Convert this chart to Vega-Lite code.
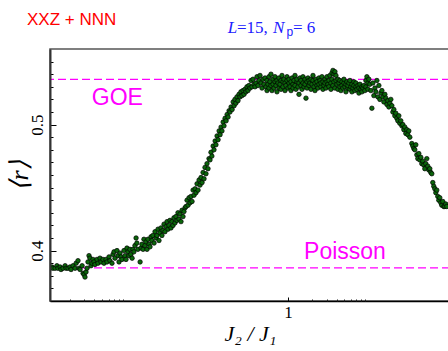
{
"$schema": "https://vega.github.io/schema/vega-lite/v6.json",
"width": 400, "height": 252,
"autosize": "none",
"padding": {"left": 50, "top": 49, "right": 0, "bottom": 50},
"background": "white",
"config": {"view": {"stroke": "#555", "strokeWidth": 1.5}},
"resolve": {"axis": {"x": "independent", "y": "independent"}},
"layer": [
{"data": {"values": [{"g": "GOE"}]},
 "mark": {"type": "rule", "color": "#ff00ff", "strokeWidth": 1.3, "strokeDash": [8, 4]},
 "encoding": {"y": {"datum": 0.5359, "type": "quantitative", "scale": {"domain": [0.36, 0.56]},
   "axis": {"orient": "left", "zindex": 1, "offset": -3, "values": [0.36,0.37,0.38,0.39,0.41,0.42,0.43,0.44,0.45,0.46,0.47,0.48,0.49,0.51,0.52,0.53,0.54,0.55], "labels": false, "domain": false, "grid": false, "title": null, "ticks": true, "tickSize": 3, "tickColor": "#000", "tickWidth": 1}}}},
{"data": {"values": [{"g": "Poisson"}]},
 "mark": {"type": "rule", "color": "#ff00ff", "strokeWidth": 1.3, "strokeDash": [8, 4]},
 "encoding": {"y": {"datum": 0.3863, "type": "quantitative", "scale": {"domain": [0.36, 0.56]},
   "axis": {"orient": "left", "zindex": 1, "offset": -6, "values": [0.4, 0.5], "labels": false, "domain": false, "grid": false, "title": null, "ticks": true, "tickSize": 6, "tickColor": "#000", "tickWidth": 1}}}},
{"data": {"values": [
{"x":0.00112,"r":0.386},{"x":0.00119,"r":0.387},{"x":0.00122,"r":0.386},{"x":0.00130,"r":0.386},{"x":0.00137,"r":0.388},{"x":0.00141,"r":0.386},{"x":0.00150,"r":0.387},{"x":0.00154,"r":0.385},{"x":0.00163,"r":0.386},{"x":0.00173,"r":0.388},{"x":0.00178,"r":0.386},{"x":0.00188,"r":0.386},{"x":0.00199,"r":0.387},{"x":0.00205,"r":0.385},{"x":0.00217,"r":0.388},{"x":0.00230,"r":0.386},{"x":0.00237,"r":0.390},{"x":0.00250,"r":0.392},{"x":0.00258,"r":0.386},{"x":0.00265,"r":0.385},
{"x":0.00281,"r":0.388},{"x":0.00289,"r":0.382},{"x":0.00297,"r":0.381},{"x":0.00305,"r":0.379},{"x":0.00314,"r":0.383},{"x":0.00323,"r":0.386},{"x":0.00332,"r":0.391},{"x":0.00342,"r":0.396},{"x":0.00352,"r":0.394},{"x":0.00362,"r":0.388},{"x":0.00373,"r":0.390},{"x":0.00383,"r":0.393},{"x":0.00395,"r":0.391},{"x":0.00406,"r":0.389},
{"x":0.00430,"r":0.393},{"x":0.00442,"r":0.390},{"x":0.00468,"r":0.394},{"x":0.00482,"r":0.391},{"x":0.00510,"r":0.393},{"x":0.00525,"r":0.390},{"x":0.00556,"r":0.393},{"x":0.00572,"r":0.391},{"x":0.00605,"r":0.395},{"x":0.00622,"r":0.392},{"x":0.00659,"r":0.390},{"x":0.00678,"r":0.397},{"x":0.00698,"r":0.399},{"x":0.00718,"r":0.394},{"x":0.00760,"r":0.400},{"x":0.00782,"r":0.396},{"x":0.00805,"r":0.391},{"x":0.00828,"r":0.398},{"x":0.00852,"r":0.395},{"x":0.00877,"r":0.393},{"x":0.00928,"r":0.400},{"x":0.00955,"r":0.396},{"x":0.00983,"r":0.393},{"x":0.0101,"r":0.402},{"x":0.0104,"r":0.399},{"x":0.0107,"r":0.396},{"x":0.0110,"r":0.401},{"x":0.0113,"r":0.397},{"x":0.0117,"r":0.394},{"x":0.0120,"r":0.401},{"x":0.0123,"r":0.399},{"x":0.0127,"r":0.404},{"x":0.0131,"r":0.410},{"x":0.0134,"r":0.406},{"x":0.0138,"r":0.401},{"x":0.0147,"r":0.391},
{"x":0.0151,"r":0.402},{"x":0.0155,"r":0.405},{"x":0.0160,"r":0.401},{"x":0.0164,"r":0.409},{"x":0.0169,"r":0.404},{"x":0.0174,"r":0.407},{"x":0.0179,"r":0.401},{"x":0.0184,"r":0.409},{"x":0.0190,"r":0.405},{"x":0.0195,"r":0.403},{"x":0.0201,"r":0.411},{"x":0.0206,"r":0.408},{"x":0.0212,"r":0.412},{"x":0.0219,"r":0.406},{"x":0.0225,"r":0.415},{"x":0.0232,"r":0.410},{"x":0.0238,"r":0.412},{"x":0.0245,"r":0.417},{"x":0.0252,"r":0.408},{"x":0.0259,"r":0.414},{"x":0.0267,"r":0.418},{"x":0.0274,"r":0.412},{"x":0.0282,"r":0.416},{"x":0.0291,"r":0.421},{"x":0.0299,"r":0.415},{"x":0.0308,"r":0.419},{"x":0.0317,"r":0.423},{"x":0.0326,"r":0.417},{"x":0.0335,"r":0.420},{"x":0.0345,"r":0.424},{"x":0.0355,"r":0.418},{"x":0.0365,"r":0.423},{"x":0.0376,"r":0.420},{"x":0.0386,"r":0.426},{"x":0.0398,"r":0.422},{"x":0.0409,"r":0.427},{"x":0.0421,"r":0.424},{"x":0.0433,"r":0.430},{"x":0.0446,"r":0.425},{"x":0.0459,"r":0.429},{"x":0.0472,"r":0.423},{"x":0.0486,"r":0.432},{"x":0.0500,"r":0.427},{"x":0.0514,"r":0.431},{"x":0.0530,"r":0.434},
{"x":0.0545,"r":0.435},{"x":0.0561,"r":0.440},{"x":0.0577,"r":0.436},{"x":0.0594,"r":0.442},{"x":0.0611,"r":0.438},{"x":0.0629,"r":0.443},{"x":0.0647,"r":0.439},{"x":0.0666,"r":0.448},{"x":0.0685,"r":0.444},{"x":0.0705,"r":0.449},{"x":0.0725,"r":0.446},{"x":0.0746,"r":0.453},{"x":0.0768,"r":0.448},{"x":0.0790,"r":0.456},{"x":0.0813,"r":0.452},{"x":0.0836,"r":0.458},{"x":0.0861,"r":0.454},{"x":0.0886,"r":0.462},{"x":0.0911,"r":0.457},{"x":0.0936,"r":0.466},{"x":0.0963,"r":0.461},{"x":0.0991,"r":0.469},{"x":0.102,"r":0.465},{"x":0.105,"r":0.473},{"x":0.108,"r":0.472},{"x":0.111,"r":0.478},{"x":0.114,"r":0.475},{"x":0.118,"r":0.483},{"x":0.121,"r":0.480},{"x":0.125,"r":0.487},{"x":0.128,"r":0.484},{"x":0.132,"r":0.491},{"x":0.136,"r":0.488},{"x":0.140,"r":0.495},{"x":0.144,"r":0.492},{"x":0.148,"r":0.498},{"x":0.152,"r":0.495},{"x":0.157,"r":0.502},{"x":0.161,"r":0.499},{"x":0.166,"r":0.505},{"x":0.171,"r":0.503},{"x":0.176,"r":0.508},{"x":0.181,"r":0.506},{"x":0.186,"r":0.511},{"x":0.191,"r":0.510},{"x":0.197,"r":0.514},{"x":0.203,"r":0.512},{"x":0.209,"r":0.518},{"x":0.215,"r":0.515},{"x":0.220,"r":0.520},{"x":0.226,"r":0.517},{"x":0.233,"r":0.522},{"x":0.240,"r":0.519},{"x":0.247,"r":0.524},{"x":0.254,"r":0.522},{"x":0.261,"r":0.526},{"x":0.269,"r":0.523},{"x":0.277,"r":0.527},{"x":0.285,"r":0.524},{"x":0.293,"r":0.528},{"x":0.301,"r":0.526},{"x":0.310,"r":0.530},{"x":0.319,"r":0.527},{"x":0.328,"r":0.531},{"x":0.338,"r":0.529},{"x":0.348,"r":0.535},{"x":0.358,"r":0.530},{"x":0.368,"r":0.536},{"x":0.379,"r":0.532},{"x":0.390,"r":0.530},{"x":0.401,"r":0.533},{"x":0.413,"r":0.538},{"x":0.425,"r":0.531},{"x":0.437,"r":0.535},{"x":0.450,"r":0.539},{"x":0.463,"r":0.533},{"x":0.476,"r":0.529},{"x":0.490,"r":0.536},{"x":0.504,"r":0.532},{"x":0.519,"r":0.537},
{"x":0.534,"r":0.530},{"x":0.549,"r":0.535},{"x":0.549,"r":0.527},{"x":0.565,"r":0.532},{"x":0.581,"r":0.538},{"x":0.581,"r":0.529},{"x":0.598,"r":0.534},{"x":0.615,"r":0.531},{"x":0.615,"r":0.540},{"x":0.633,"r":0.527},{"x":0.652,"r":0.536},{"x":0.652,"r":0.532},{"x":0.670,"r":0.529},{"x":0.690,"r":0.534},{"x":0.690,"r":0.538},{"x":0.710,"r":0.531},{"x":0.730,"r":0.526},{"x":0.730,"r":0.535},{"x":0.752,"r":0.533},{"x":0.773,"r":0.537},{"x":0.773,"r":0.529},{"x":0.796,"r":0.532},{"x":0.819,"r":0.535},{"x":0.819,"r":0.528},{"x":0.842,"r":0.539},{"x":0.867,"r":0.530},{"x":0.867,"r":0.534},{"x":0.892,"r":0.536},{"x":0.918,"r":0.527},{"x":0.918,"r":0.533},{"x":0.944,"r":0.531},{"x":0.972,"r":0.535},{"x":0.972,"r":0.538},{"x":1.000,"r":0.529},{"x":1.029,"r":0.533},{"x":1.029,"r":0.536},{"x":1.059,"r":0.530},{"x":1.089,"r":0.534},{"x":1.089,"r":0.527},{"x":1.121,"r":0.537},{"x":1.153,"r":0.532},{"x":1.153,"r":0.529},{"x":1.186,"r":0.535},{"x":1.221,"r":0.531},{"x":1.221,"r":0.539},{"x":1.256,"r":0.528},{"x":1.292,"r":0.534},{"x":1.292,"r":0.536},{"x":1.330,"r":0.530},{"x":1.368,"r":0.524},{"x":1.368,"r":0.533},{"x":1.408,"r":0.537},{"x":1.448,"r":0.531},{"x":1.448,"r":0.535},{"x":1.490,"r":0.528},{"x":1.533,"r":0.533},{"x":1.533,"r":0.538},{"x":1.578,"r":0.530},{"x":1.623,"r":0.536},{"x":1.623,"r":0.532},{"x":1.670,"r":0.521},{"x":1.719,"r":0.534},{"x":1.719,"r":0.529},{"x":1.768,"r":0.537},{"x":1.819,"r":0.531},{"x":1.819,"r":0.535},{"x":1.872,"r":0.533},{"x":1.926,"r":0.528},{"x":1.926,"r":0.536},{"x":1.982,"r":0.532},{"x":2.039,"r":0.535},{"x":2.039,"r":0.539},{"x":2.098,"r":0.530},{"x":2.159,"r":0.533},{"x":2.159,"r":0.527},{"x":2.221,"r":0.536},{"x":2.285,"r":0.531},{"x":2.285,"r":0.534},{"x":2.351,"r":0.529},{"x":2.419,"r":0.537},{"x":2.419,"r":0.532},{"x":2.489,"r":0.535},{"x":2.561,"r":0.530},{"x":2.561,"r":0.533},{"x":2.635,"r":0.538},{"x":2.711,"r":0.528},{"x":2.711,"r":0.534},{"x":2.790,"r":0.531},{"x":2.870,"r":0.536},{"x":2.870,"r":0.533},{"x":2.953,"r":0.529},{"x":3.039,"r":0.534},{"x":3.039,"r":0.538},{"x":3.126,"r":0.532},{"x":3.217,"r":0.535},{"x":3.217,"r":0.530},{"x":3.310,"r":0.539},{"x":3.405,"r":0.533},{"x":3.405,"r":0.528},{"x":3.504,"r":0.541},{"x":3.504,"r":0.536},{"x":3.605,"r":0.543},{"x":3.605,"r":0.531},{"x":3.709,"r":0.540},{"x":3.709,"r":0.534},{"x":3.816,"r":0.542},{"x":3.816,"r":0.529},{"x":3.926,"r":0.539},{"x":3.926,"r":0.535},{"x":4.040,"r":0.532},{"x":4.156,"r":0.536},{"x":4.156,"r":0.528},{"x":4.276,"r":0.533},{"x":4.400,"r":0.530},{"x":4.400,"r":0.535},{"x":4.527,"r":0.527},{"x":4.658,"r":0.534},{"x":4.658,"r":0.531},{"x":4.793,"r":0.529},{"x":4.931,"r":0.533},{"x":4.931,"r":0.536},{"x":5.074,"r":0.530},{"x":5.220,"r":0.526},{"x":5.220,"r":0.532},{"x":5.371,"r":0.534},{"x":5.527,"r":0.529},{"x":5.527,"r":0.531},{"x":5.686,"r":0.533},{"x":5.851,"r":0.528},{"x":5.851,"r":0.535},{"x":6.020,"r":0.530},{"x":6.194,"r":0.532},{"x":6.194,"r":0.526},{"x":6.373,"r":0.529},{"x":6.557,"r":0.534},{"x":6.557,"r":0.531},{"x":6.746,"r":0.527},{"x":6.941,"r":0.530},{"x":6.941,"r":0.533},{"x":7.142,"r":0.528},{"x":7.348,"r":0.531},{"x":7.561,"r":0.525},{"x":7.561,"r":0.529},{"x":7.779,"r":0.532},{"x":8.004,"r":0.528},{"x":8.235,"r":0.530},{"x":8.235,"r":0.526},{"x":8.473,"r":0.529},{"x":8.718,"r":0.531},{"x":8.970,"r":0.527},{"x":9.229,"r":0.535},{"x":9.229,"r":0.530},{"x":9.496,"r":0.538},{"x":9.770,"r":0.533},{"x":9.770,"r":0.528},{"x":10.05,"r":0.536},
{"x":10.34,"r":0.532},{"x":10.64,"r":0.527},{"x":10.95,"r":0.513},{"x":11.27,"r":0.533},{"x":11.59,"r":0.523},{"x":11.93,"r":0.529},{"x":12.27,"r":0.526},{"x":12.63,"r":0.535},{"x":12.99,"r":0.522},{"x":13.37,"r":0.531},{"x":13.75,"r":0.520},{"x":14.15,"r":0.525},{"x":14.56,"r":0.527},{"x":14.98,"r":0.522},{"x":15.41,"r":0.518},{"x":15.86,"r":0.524},{"x":16.32,"r":0.521},{"x":16.79,"r":0.516},{"x":17.27,"r":0.519},{"x":17.77,"r":0.514},{"x":18.28,"r":0.517},{"x":18.81,"r":0.520},{"x":19.36,"r":0.515},{"x":19.92,"r":0.510},{"x":20.49,"r":0.512},{"x":21.08,"r":0.507},{"x":21.69,"r":0.509},{"x":22.32,"r":0.505},{"x":22.97,"r":0.503},{"x":23.63,"r":0.507},{"x":24.31,"r":0.501},{"x":25.01,"r":0.503},{"x":25.74,"r":0.499},{"x":26.48,"r":0.500},{"x":27.25,"r":0.496},{"x":28.03,"r":0.498},{"x":28.84,"r":0.493},{"x":29.68,"r":0.496},{"x":30.54,"r":0.492},{"x":31.42,"r":0.495},{"x":32.33,"r":0.490},{"x":34.22,"r":0.485},{"x":35.21,"r":0.483},{"x":36.23,"r":0.481},{"x":37.28,"r":0.480},{"x":38.35,"r":0.484},{"x":39.46,"r":0.476},{"x":40.60,"r":0.473},{"x":41.78,"r":0.477},{"x":42.98,"r":0.472},{"x":44.23,"r":0.474},{"x":45.50,"r":0.469},{"x":46.82,"r":0.471},{"x":48.17,"r":0.468},{"x":49.56,"r":0.465},{"x":51.00,"r":0.469},{"x":52.47,"r":0.473},{"x":53.99,"r":0.467},{"x":55.55,"r":0.464},{"x":57.15,"r":0.465},{"x":58.80,"r":0.462},{"x":60.50,"r":0.461},{"x":62.25,"r":0.454},{"x":64.05,"r":0.451},{"x":65.90,"r":0.449},{"x":67.81,"r":0.446},{"x":69.77,"r":0.448},{"x":71.78,"r":0.443},{"x":73.86,"r":0.440},{"x":75.99,"r":0.442},{"x":78.19,"r":0.438},{"x":80.45,"r":0.436},{"x":82.77,"r":0.439},{"x":85.17,"r":0.435},{"x":87.63,"r":0.435},{"x":90.16,"r":0.437},{"x":92.77,"r":0.435}
 ]},
 "mark": {"type": "circle", "size": 20, "fill": "#0b660b", "stroke": "#000", "strokeWidth": 0.7, "opacity": 1, "fillOpacity": 1, "clip": true},
 "encoding": {
  "x": {"field": "x", "type": "quantitative", "scale": {"type": "log", "domain": [0.001124, 101.7], "nice": false},
   "axis": {"orient": "bottom", "zindex": 1, "values": [1], "format": "~g", "grid": false, "ticks": false, "tickSize": 0, "labelFont": "Liberation Serif", "labelFontSize": 17, "labelColor": "#000", "labelPadding": 3, "domainColor": "#000", "domainWidth": 1.5, "title": "J₂ / J₁", "titleFont": "Liberation Serif", "titleFontStyle": "italic", "titleFontWeight": "normal", "titleFontSize": 22, "titleColor": "#000", "titlePadding": 3}},
  "y": {"field": "r", "type": "quantitative", "scale": {"domain": [0.36, 0.56], "nice": false, "zero": false},
   "axis": {"orient": "left", "zindex": 1, "values": [0.4, 0.5], "format": ".1f", "grid": false, "ticks": false, "tickSize": 0, "labelAngle": -90, "labelAlign": "center", "labelBaseline": "bottom", "labelFont": "Liberation Serif", "labelFontSize": 17, "labelColor": "#000", "labelPadding": 4, "domainColor": "#333", "domainWidth": 2, "title": "⟨r⟩", "titleFont": "Liberation Serif", "titleFontStyle": "italic", "titleFontWeight": "normal", "titleFontSize": 26, "titleColor": "#000", "titlePadding": -4}}
 }},
{"data": {"values": [{"x": 0.00767, "r": 0.5152, "t": "GOE"}, {"x": 5.08, "r": 0.3932, "t": "Poisson"}]},
 "mark": {"type": "text", "font": "Liberation Sans", "fontSize": 23, "color": "#ff00ff", "align": "center", "baseline": "alphabetic"},
 "encoding": {
  "x": {"field": "x", "type": "quantitative", "scale": {"type": "log", "domain": [0.001124, 101.7], "nice": false},
   "axis": {"orient": "bottom", "zindex": 1, "offset": -2, "values": [0.002,0.003,0.004,0.005,0.006,0.007,0.008,0.009,2,3,4,5,6,7,8,9], "labels": false, "domain": false, "grid": false, "title": null, "ticks": true, "tickSize": 2, "tickColor": "#222", "tickWidth": 1}},
  "y": {"field": "r", "type": "quantitative", "scale": {"domain": [0.36, 0.56]}, "axis": null},
  "text": {"field": "t"}}},
{"data": {"values": [{"x": 1, "r": 0.3863, "t": ""}]},
 "mark": {"type": "text", "color": "#000"},
 "encoding": {
  "x": {"field": "x", "type": "quantitative", "scale": {"type": "log", "domain": [0.001124, 101.7], "nice": false},
   "axis": {"orient": "bottom", "zindex": 1, "offset": -4, "values": [1], "labels": false, "domain": false, "grid": false, "title": null, "ticks": true, "tickSize": 4, "tickColor": "#000", "tickWidth": 1}},
  "y": {"field": "r", "type": "quantitative", "scale": {"domain": [0.36, 0.56]}, "axis": null},
  "text": {"field": "t"}}},
{"data": {"values": [{"x": 0.000583, "r": 0.5791, "t": "XXZ + NNN"}]},
 "mark": {"type": "text", "font": "Liberation Sans", "fontSize": 17, "color": "#ff0000", "align": "left", "baseline": "alphabetic"},
 "encoding": {
  "x": {"field": "x", "type": "quantitative", "scale": {"type": "log", "domain": [0.001124, 101.7], "nice": false}, "axis": null},
  "y": {"field": "r", "type": "quantitative", "scale": {"domain": [0.36, 0.56]}, "axis": null},
  "text": {"field": "t"}}},
{"data": {"values": [{"x": 0.179, "r": 0.5724, "t": "L"}, {"x": 0.652, "r": 0.5724, "t": "N"}]},
 "mark": {"type": "text", "font": "Liberation Serif", "fontSize": 17, "fontStyle": "italic", "color": "#2020ff", "align": "left", "baseline": "alphabetic"},
 "encoding": {
  "x": {"field": "x", "type": "quantitative", "scale": {"type": "log", "domain": [0.001124, 101.7], "nice": false}, "axis": null},
  "y": {"field": "r", "type": "quantitative", "scale": {"domain": [0.36, 0.56]}, "axis": null},
  "text": {"field": "t"}}},
{"data": {"values": [{"x": 0.233, "r": 0.5724, "t": "=15,"}, {"x": 1.153, "r": 0.5724, "t": "= 6"}]},
 "mark": {"type": "text", "font": "Liberation Serif", "fontSize": 17, "color": "#2020ff", "align": "left", "baseline": "alphabetic"},
 "encoding": {
  "x": {"field": "x", "type": "quantitative", "scale": {"type": "log", "domain": [0.001124, 101.7], "nice": false}, "axis": null},
  "y": {"field": "r", "type": "quantitative", "scale": {"domain": [0.36, 0.56]}, "axis": null},
  "text": {"field": "t"}}},
{"data": {"values": [{"x": 0.958, "r": 0.5703, "t": "p"}]},
 "mark": {"type": "text", "font": "Liberation Sans", "fontSize": 12, "color": "#2020ff", "align": "left", "baseline": "alphabetic"},
 "encoding": {
  "x": {"field": "x", "type": "quantitative", "scale": {"type": "log", "domain": [0.001124, 101.7], "nice": false}, "axis": null},
  "y": {"field": "r", "type": "quantitative", "scale": {"domain": [0.36, 0.56]}, "axis": null},
  "text": {"field": "t"}}}
]
}
